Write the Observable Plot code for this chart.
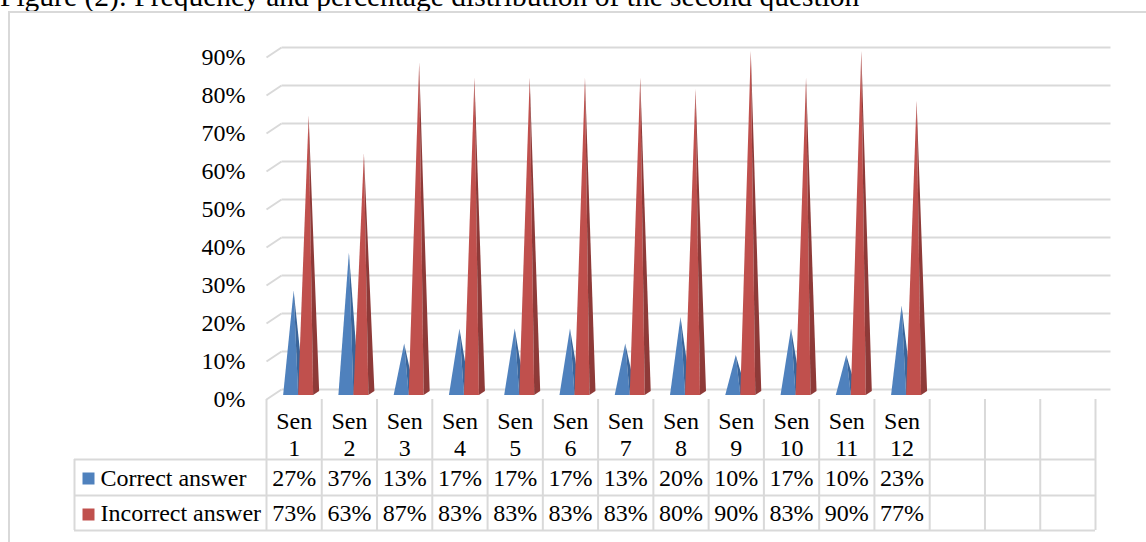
<!DOCTYPE html>
<html><head><meta charset="utf-8">
<script src="https://cdn.jsdelivr.net/npm/d3@7"></script>
<script src="https://cdn.jsdelivr.net/npm/@observablehq/plot@0.6"></script>
<style>
html,body{margin:0;padding:0;background:#fff;}
#wrap{position:relative;width:1146px;height:542px;overflow:hidden;font-family:"Liberation Serif","Times New Roman",serif;}
#title{position:absolute;left:0;top:-18px;font-size:29.5px;line-height:29.5px;white-space:nowrap;color:#000;}
#box{position:absolute;left:8px;top:11px;width:1200px;height:600px;border:2px solid #D9D9D9;box-sizing:border-box;}
#chart{position:absolute;left:0;top:0;}
</style></head>
<body><div id="wrap"><div id="title">Figure (2): Frequency and percentage distribution of the second question</div><div id="box"></div><div id="chart"></div></div>
<script>
const categories = ["Sen 1","Sen 2","Sen 3","Sen 4","Sen 5","Sen 6","Sen 7","Sen 8","Sen 9","Sen 10","Sen 11","Sen 12"];
const correct   = [27,37,13,17,17,17,13,20,10,17,10,23];
const incorrect = [73,63,87,83,83,83,83,80,90,83,90,77];
const seriesNames = ["Correct answer","Incorrect answer"];
const seriesColors = ["#4F81BD","#C0504D"];
const sideColors = ["#3A659A","#8E3A38"];
const yTicks = [0,10,20,30,40,50,60,70,80,90];
const tableColumns = 15;

const W=1146,H=542, mL=266, mR=51, mT=57, mB=143;
const kx=(W-mL-mR)/tableColumns, ky=(H-mT-mB)/90;
const baseY = H-mB;
const dxU = px=>px/kx, dyU = px=>px/ky;
const yAt = py => (baseY-py)/ky;
const xAt = px => (px-mL)/kx - 0.5;

const faces = [];
[correct, incorrect].forEach((vals, s) => {
  vals.forEach((v, i) => {
    const xl = s===0 ? -16.5 : -1.5, xr = xl + 15;
    const fx = i + dxU(xl+6), rx = i + dxU(xr+6), brx = i + dxU(xr+12);
    const ax = i + dxU((xl+xr)/2 + 9);
    const yb = dyU(4), ybr = dyU(8), ya = v + dyU(6);
    const yTopAtR = ya + (ybr-ya)*(rx-ax)/(brx-ax);
    const k = s+"-"+i;
    faces.push({s, face:"front", key:k+"f", x:fx, y1:yb, y2:yb});
    faces.push({s, face:"front", key:k+"f", x:ax, y1:yb, y2:ya});
    faces.push({s, face:"front", key:k+"f", x:rx, y1:yb, y2:yb});
    faces.push({s, face:"side", key:k+"s", x:ax, y1:ya, y2:ya});
    faces.push({s, face:"side", key:k+"s", x:rx, y1:yb, y2:yTopAtR});
    faces.push({s, face:"side", key:k+"s", x:brx, y1:ybr, y2:ybr});
  });
});

const gxo = dxU(15), gyo = dyU(10);
const grid = "#D9D9D9";
const colEdges = d3.range(tableColumns+1).map(k=>k-0.5);
const rowLines = [459,495,530];

const marks = [
  Plot.link(yTicks, {x1: -0.5, x2: -0.5+gxo, y1: d=>d, y2: d=>d+gyo, stroke: grid, strokeWidth: 2}),
  Plot.link(yTicks, {x1: -0.5+gxo, x2: 14.5+gxo, y1: d=>d+gyo, y2: d=>d+gyo, stroke: grid, strokeWidth: 2}),
  Plot.axisY(yTicks, {tickSize:0, tickPadding:21, tickFormat: d=>d+"%", fontSize:24, label:null}),
];
for (const s of [0,1]) {
  marks.push(Plot.area(faces.filter(d=>d.s===s && d.face==="front"), {x1:"x", y1:"y1", y2:"y2", z:"key", fill: seriesColors[s]}));
  marks.push(Plot.area(faces.filter(d=>d.s===s && d.face==="side"), {x1:"x", y1:"y1", y2:"y2", z:"key", fill: sideColors[s]}));
}
marks.push(
  Plot.ruleX(colEdges, {x: d=>d, y1: 0, y2: yAt(530), stroke: grid, strokeWidth: 2}),
  Plot.ruleY(rowLines, {y: d=>yAt(d), x1: xAt(74), x2: 14.5, stroke: grid, strokeWidth: 2}),
  Plot.ruleX([xAt(74)], {x: d=>d, y1: yAt(459), y2: yAt(530), stroke: grid, strokeWidth: 2}),
  Plot.text(categories, {x:(d,i)=>i, y: yAt(433.8), text: d=>d.replace(" ","\n"), lineHeight:1.12, fontSize:24}),
  Plot.text(correct, {x:(d,i)=>i, y: yAt(478.3), text: d=>d+"%", fontSize:24}),
  Plot.text(incorrect, {x:(d,i)=>i, y: yAt(512.5), text: d=>d+"%", fontSize:24}),
  Plot.dot([seriesNames[0]], {x: xAt(88), y: yAt(478), symbol:"square", r:6.77, fill: seriesColors[0]}),
  Plot.dot([seriesNames[1]], {x: xAt(88), y: yAt(514), symbol:"square", r:6.77, fill: seriesColors[1]}),
  Plot.text(seriesNames, {x: xAt(100), y: (d,i)=>yAt(i? 512.5 : 478.3), text: d=>d, textAnchor:"start", fontSize:24})
);

const chart = Plot.plot({
  width: W, height: H,
  marginLeft: mL, marginRight: mR, marginTop: mT, marginBottom: mB,
  x: {type:"linear", domain:[-0.5, 14.5], axis:null},
  y: {domain:[0,90], label:null},
  style: {fontFamily:'"Liberation Serif","Times New Roman",serif', fontSize:"24px", background:"transparent", color:"#000", overflow:"visible"},
  marks
});
document.getElementById("chart").appendChild(chart);
</script>
</body></html>
